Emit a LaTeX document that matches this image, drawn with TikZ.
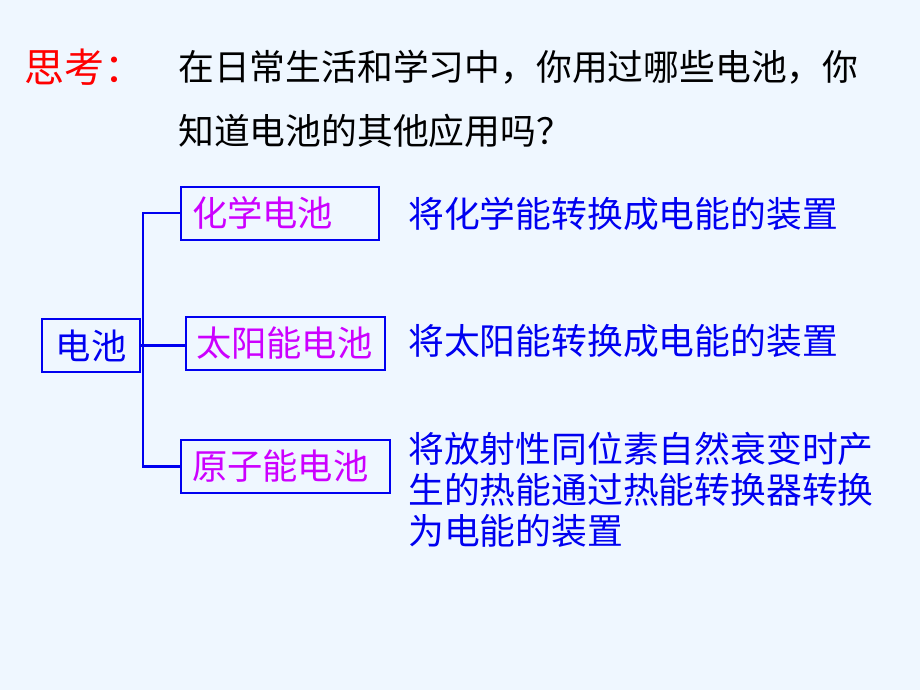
\documentclass[tikz,border=0pt]{standalone}
\usepackage{fontspec}
\newfontfamily\cjk{Noto Sans CJK SC}
\definecolor{bgc}{RGB}{239,247,255}
\definecolor{myblue}{RGB}{0,0,240}
\definecolor{mymag}{RGB}{204,0,255}
\definecolor{myred}{RGB}{255,0,0}
\tikzset{
  txt/.style={anchor=west, inner sep=0pt, font=\cjk\fontsize{35.8}{41}\selectfont},
  desc/.style={txt, text=myblue, align=left},
  boxnode/.style={draw=myblue, line width=2pt, minimum height=53pt, inner ysep=0pt, font=\cjk\fontsize{35.3}{40}\selectfont},
  conn/.style={draw=myblue, line width=2.5pt}
}
\begin{document}
\begin{tikzpicture}[x=1pt,y=-1pt]
\fill[bgc] (0,0) rectangle (920,690);
\useasboundingbox (0,0) rectangle (920,690);
\node[txt, text=myred, font=\cjk\fontsize{40}{44}\selectfont] (think) at (24,67) {思考：};
\node[txt, text=black] (q1) at (178,67) {在日常生活和学习中，你用过哪些电池，你};
\node[txt, text=black] (q2) at (178,131) {知道电池的其他应用吗？};
\node[boxnode, text=myblue, minimum width=98pt, inner xsep=0pt] (battery) at (91,345.5) {电池};
\node[boxnode, text=mymag, inner xsep=11pt, text width=176pt, align=left, anchor=west] (chem) at (180,213) {化学电池};
\node[boxnode, text=mymag, inner xsep=10pt, text width=179pt, align=left, anchor=west] (solar) at (185,343.5) {太阳能电池};
\node[boxnode, text=mymag, inner xsep=11pt, text width=187pt, align=left, anchor=west] (atom) at (180,466.5) {原子能电池};
\coordinate (trunk) at (143,0);
\draw[conn] (chem.west) -- (chem.west -| trunk) -- (atom.west -| trunk) -- (atom.west);
\draw[conn] (battery.east) -- (battery.east -| solar.west);
\node[desc] (d1) at (408,214) {将化学能转换成电能的装置};
\node[desc] (d2) at (408,341) {将太阳能转换成电能的装置};
\node[desc] (d3) at (408,490) {将放射性同位素自然衰变时产\\生的热能通过热能转换器转换\\为电能的装置};
\end{tikzpicture}
\end{document}
